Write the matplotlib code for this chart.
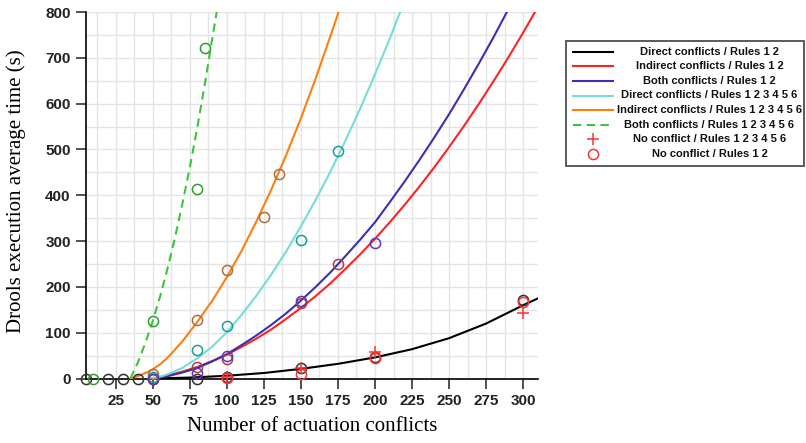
import numpy as np
import matplotlib
matplotlib.use("Agg")
import matplotlib.pyplot as plt
from matplotlib.lines import Line2D
from matplotlib.patches import Rectangle

# ---------------- data ----------------
# fitted curves
black_x = [50, 75, 100, 125, 150, 175, 200, 225, 250, 275, 300, 310]
black_y = [0, 2, 6, 12, 21, 32, 46, 64, 88, 120, 160, 175]

red_x = [50, 60, 70, 80, 90, 100, 110, 120, 130, 140, 150, 160, 170, 180, 190,
         200, 210, 220, 230, 240, 250, 260, 270, 280, 290, 300, 308]
red_y = [0, 6.5, 15, 25, 38, 52, 69, 87, 107, 130, 154, 180, 208, 239, 271,
         305, 341, 379, 419, 461, 505, 551, 599, 649, 701, 755, 800]

blue_x = [50, 60, 70, 80, 90, 100, 110, 120, 130, 140, 150, 160, 170, 180, 190,
          200, 210, 220, 230, 240, 250, 260, 270, 280, 289]
blue_y = [0, 5, 13, 23, 37, 53, 73, 94, 117, 142, 170, 200, 232, 267, 303,
          341, 385, 430, 477, 526, 577, 631, 687, 745, 800]

cyan_x = [48, 55, 60, 70, 80, 90, 100, 110, 120, 130, 140, 150, 160, 170, 180,
          190, 200, 210, 217]
cyan_y = [0, 4, 9, 23, 44, 69, 101, 139, 181, 227, 277, 332, 390, 452, 519,
          589, 664, 742, 800]

orange_x = [35, 40, 45, 50, 55, 60, 70, 80, 90, 100, 110, 120, 130, 140, 150,
            160, 170, 175.4]
orange_y = [0, 5, 12, 20, 31, 45, 81, 123, 169, 221, 279, 343, 412, 487, 568,
            655, 748, 800]

green_x = [35, 40, 45, 50, 55, 60, 65, 70, 75, 80, 85, 90, 93.2]
green_y = [0, 35, 77, 125, 179, 240, 307, 381, 460, 546, 639, 738, 800]

# measured points (circles / crosses)
pts_black_x = [5, 20, 30, 40, 50, 80, 100, 150, 200, 300]
pts_black_y = [0, 0, 0, 0, 0, 0, 3, 23, 47, 172]
pts_green_x = [10, 50, 80, 85]
pts_green_y = [0, 125, 414, 722]
pts_orange_x = [50, 80, 100, 125, 135]
pts_orange_y = [10, 127, 237, 353, 446]
pts_cyan_x = [50, 80, 100, 150, 175]
pts_cyan_y = [3, 62, 115, 302, 497]
pts_red_x = [50, 80, 100, 150, 175]
pts_red_y = [0, 26, 43, 165, 249]
pts_blue_x = [50, 80, 100, 150, 200]
pts_blue_y = [0, 12, 50, 169, 296]
noconf12_x = [100, 150, 200, 300]
noconf12_y = [2, 10, 45, 167]
noconf123456_x = [100, 150, 200, 300]
noconf123456_y = [3, 22, 57, 142]

x_ticks = [25, 50, 75, 100, 125, 150, 175, 200, 225, 250, 275, 300]
y_ticks = [0, 100, 200, 300, 400, 500, 600, 700, 800]

legend_labels = [
    "Direct conflicts / Rules 1 2",
    "Indirect conflicts / Rules 1 2",
    "Both conflicts / Rules 1 2",
    "Direct conflicts / Rules 1 2 3 4 5 6",
    "Indirect conflicts / Rules 1 2 3 4 5 6",
    "Both conflicts / Rules 1 2 3 4 5 6",
    "No conflict / Rules 1 2 3 4 5 6",
    "No conflict / Rules 1 2",
]

# ---------------- styling ----------------
C_BLACK = "#000000"
C_RED = "#ff2222"
C_BLUE = "#3a30b0"
C_CYAN = "#74ddd6"
C_ORANGE = "#ff7f0e"
C_GREEN = "#3cc43c"

P_BLACK = "#303030"
P_GREEN = "#2e9e2e"
P_ORANGE = "#a87040"
P_CYAN = "#1a9c9c"
P_RED = "#b03a4a"
P_BLUE = "#5a3cb0"
P_NOCONF = "#ff3030"

fig = plt.figure(figsize=(8.06, 4.43), dpi=100)
ax = fig.add_axes([86 / 806, 1 - 378.5 / 443, (538 - 86) / 806, (378.5 - 12) / 443])

lw = 1.5
ax.plot(black_x, black_y, color=C_BLACK, lw=lw, zorder=3)
ax.plot(red_x, red_y, color=C_RED, lw=lw, zorder=3)
ax.plot(blue_x, blue_y, color=C_BLUE, lw=lw, zorder=3)
ax.plot(cyan_x, cyan_y, color=C_CYAN, lw=lw, zorder=3)
ax.plot(orange_x, orange_y, color=C_ORANGE, lw=lw, zorder=3)
ax.plot(green_x, green_y, color=C_GREEN, lw=lw, ls=(0, (4, 2.6)), zorder=3)

ms = 7.3
mew = 1.1
for xs, ys, c in [
    (pts_black_x, pts_black_y, P_BLACK),
    (pts_green_x, pts_green_y, P_GREEN),
    (pts_orange_x, pts_orange_y, P_ORANGE),
    (pts_cyan_x, pts_cyan_y, P_CYAN),
    (pts_red_x, pts_red_y, P_RED),
    (pts_blue_x, pts_blue_y, P_BLUE),
    (noconf12_x, noconf12_y, P_NOCONF),
]:
    ax.plot(xs, ys, ls="none", marker="o", ms=ms, mfc="none", mec=c, mew=mew,
            clip_on=False, zorder=4)
ax.plot(noconf123456_x, noconf123456_y, ls="none", marker="+", ms=9,
        mec=P_NOCONF, mew=1.1, clip_on=False, zorder=4)

ax.set_xlim(5, 310)
ax.set_ylim(0, 800)
ax.set_xticks(x_ticks)
ax.set_yticks(y_ticks)
ax.set_xticks(np.arange(12.5, 310, 25), minor=True)
ax.set_yticks(np.arange(50, 800, 100), minor=True)
ax.grid(True, which="both", color="#e4e4e4", lw=1.0)
ax.set_axisbelow(True)

for s in ["top", "right"]:
    ax.spines[s].set_visible(False)
for s in ["left", "bottom"]:
    ax.spines[s].set_linewidth(1.2)

ax.tick_params(axis="both", which="major", direction="out", length=7, width=1.1,
               labelsize=11, pad=4, colors="#222222")
ax.tick_params(axis="both", which="minor", length=0)
for lab in ax.get_xticklabels() + ax.get_yticklabels():
    lab.set_fontfamily("Liberation Sans")
    lab.set_fontweight("bold")

ax.set_xlabel("Number of actuation conflicts", family="Liberation Serif", fontsize=15)
ax.set_ylabel("Drools execution average time (s)", family="Liberation Serif", fontsize=15)
ax.xaxis.set_label_coords(0.5, -0.105)
ax.yaxis.set_label_coords(-0.133, 0.51)

# ---------------- legend (manual, centred text like the reference) ----------------
lax = fig.add_axes([565 / 806, 1 - 167 / 443, 240 / 806, 127 / 443])
lax.set_xlim(565, 805)
lax.set_ylim(167, 40)
lax.axis("off")
lax.add_patch(Rectangle((565.8, 40.8), 238.4, 125.4, fill=False, ec="#5a5a5a", lw=1.4,
                        clip_on=False))

handles = [
    dict(color=C_BLACK, ls="-", marker=None),
    dict(color=C_RED, ls="-", marker=None),
    dict(color=C_BLUE, ls="-", marker=None),
    dict(color=C_CYAN, ls="-", marker=None),
    dict(color=C_ORANGE, ls="-", marker=None),
    dict(color=C_GREEN, ls=(0, (4, 2.6)), marker=None),
    dict(color=P_NOCONF, ls="none", marker="+"),
    dict(color=P_NOCONF, ls="none", marker="o"),
]
row0 = 51.7
dy = 14.6
for i, (lab, h) in enumerate(zip(legend_labels, handles)):
    yy = row0 + i * dy
    if h["marker"] is None:
        lax.add_line(Line2D([573, 613], [yy, yy], color=h["color"], ls=h["ls"], lw=lw))
    elif h["marker"] == "+":
        lax.add_line(Line2D([593], [yy], ls="none", marker="+", ms=9, mec=h["color"],
                            mew=1.1))
    else:
        lax.add_line(Line2D([593], [yy], ls="none", marker="o", ms=ms, mfc="none",
                            mec=h["color"], mew=mew))
    lax.text(709.5, yy, lab, ha="center", va="center", family="Liberation Sans",
             fontsize=8, fontweight="bold", color="#111111")

fig.savefig("out.png", dpi=100)
